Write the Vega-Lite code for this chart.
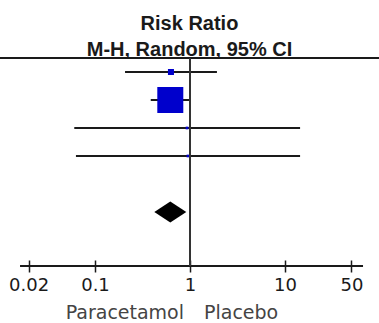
{
  "$schema": "https://vega.github.io/schema/vega-lite/v6.json",
  "width": 379,
  "height": 208,
  "autosize": {"type": "none"},
  "padding": {"top": 58, "left": 0, "right": 0, "bottom": 57},
  "background": "white",
  "data": {"values": [{}]},
  "title": {
    "text": ["Risk Ratio", "M-H, Random, 95% CI"],
    "anchor": "middle",
    "frame": "group",
    "font": "Liberation Sans",
    "fontSize": 20,
    "fontWeight": "bold",
    "color": "#1a1a1a",
    "lineHeight": 26,
    "baseline": "alphabetic",
    "offset": 3,
    "dy": 22
  },
  "config": {
    "view": {"stroke": null},
    "axisX": {
      "domain": false,
      "grid": false,
      "ticks": true,
      "tickSize": 12,
      "tickColor": "#1a1a1a",
      "tickWidth": 1.5,
      "offset": -6,
      "labelFont": "DejaVu Sans",
      "labelFontSize": 18,
      "labelColor": "#1a1a1a",
      "labelPadding": 18,
      "labelBaseline": "alphabetic",
      "labelOverlap": false,
      "labelFlush": false
    }
  },
  "datasets": {
    "studies": [
      {"row": 0, "rr": 0.63, "lo": 0.207, "hi": 1.92, "weight": 5.0},
      {"row": 1, "rr": 0.62, "lo": 0.386, "hi": 1.0, "weight": 93.0},
      {"row": 2, "rr": 0.93, "lo": 0.0605, "hi": 14.4, "weight": 1.0},
      {"row": 3, "rr": 0.95, "lo": 0.063, "hi": 14.4, "weight": 1.0}
    ],
    "total": [{"row": 5, "rr": 0.62, "lo": 0.43, "hi": 0.91}]
  },
  "layer": [
    {
      "mark": {"type": "rule", "color": "#1a1a1a", "strokeWidth": 2},
      "encoding": {
        "y": {"datum": -0.5, "type": "quantitative", "scale": {"domain": [-0.5, 6.93], "reverse": true, "nice": false, "zero": false}, "axis": null}
      }
    },
    {
      "mark": {"type": "rule", "color": "#1a1a1a", "strokeWidth": 2},
      "encoding": {
        "x": {"datum": 0.01625, "type": "quantitative", "scale": {"type": "log", "domain": [0.01, 97.5], "nice": false}, "title": null, "axis": {"values": [0.02, 0.1, 1, 10, 50], "format": "~g"}},
        "x2": {"datum": 66.2},
        "y": {"datum": 6.93, "type": "quantitative"}
      }
    },
    {
      "data": {"name": "studies"},
      "mark": {"type": "rule", "color": "#1a1a1a", "strokeWidth": 1.8},
      "encoding": {
        "x": {"field": "lo", "type": "quantitative", "title": null},
        "x2": {"field": "hi"},
        "y": {"field": "row", "type": "quantitative"}
      }
    },
    {
      "data": {"name": "studies"},
      "mark": {"type": "point", "shape": "square", "filled": true, "color": "#0000cc", "opacity": 1, "strokeWidth": 0},
      "encoding": {
        "x": {"field": "rr", "type": "quantitative", "title": null},
        "y": {"field": "row", "type": "quantitative"},
        "size": {"field": "weight", "type": "quantitative", "scale": {"domain": [0, 100], "range": [0, 727], "zero": true}, "legend": null}
      }
    },
    {
      "mark": {"type": "rule", "color": "#333333", "strokeWidth": 2},
      "encoding": {
        "x": {"datum": 1, "type": "quantitative", "title": null},
        "y": {"datum": -0.5, "type": "quantitative"},
        "y2": {"datum": 6.93}
      }
    },
    {
      "data": {"name": "total"},
      "mark": {"type": "point", "shape": "M-1,0L0,-0.66L1,0L0,0.66Z", "filled": true, "color": "#000000", "opacity": 1, "size": 1024, "strokeWidth": 0},
      "encoding": {
        "x": {"field": "rr", "type": "quantitative", "title": null},
        "y": {"field": "row", "type": "quantitative"}
      }
    },
    {
      "mark": {"type": "text", "text": "Paracetamol", "align": "right", "baseline": "alphabetic", "dx": -6, "dy": 53, "font": "DejaVu Sans", "fontSize": 19, "color": "#444444"},
      "encoding": {
        "x": {"datum": 1, "type": "quantitative", "title": null},
        "y": {"datum": 6.93, "type": "quantitative"}
      }
    },
    {
      "mark": {"type": "text", "text": "Placebo", "align": "left", "baseline": "alphabetic", "dx": 14, "dy": 53, "font": "DejaVu Sans", "fontSize": 19, "color": "#444444"},
      "encoding": {
        "x": {"datum": 1, "type": "quantitative", "title": null},
        "y": {"datum": 6.93, "type": "quantitative"}
      }
    }
  ]
}
